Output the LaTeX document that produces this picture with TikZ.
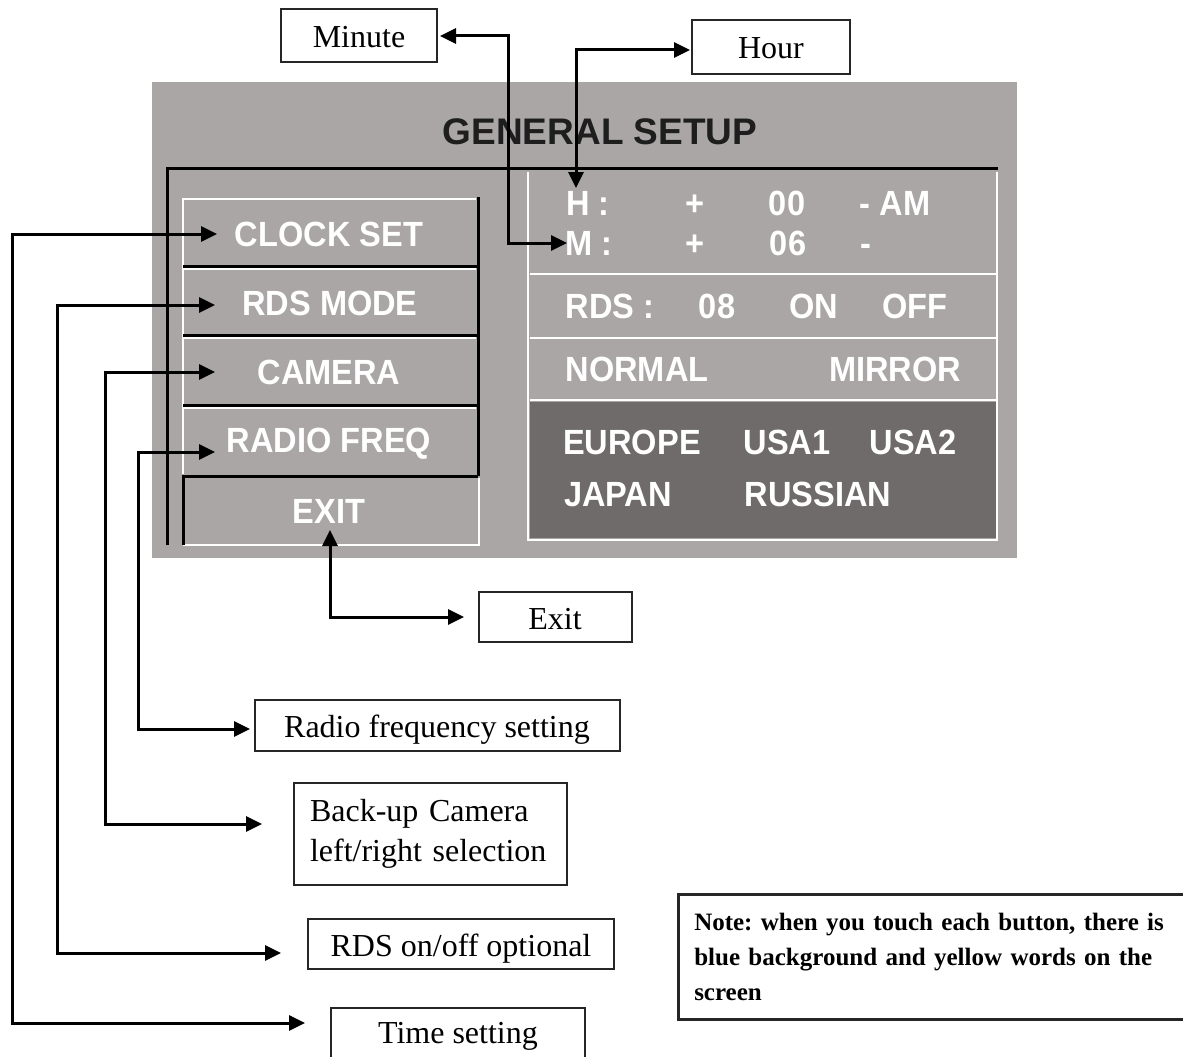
\documentclass[tikz,border=0pt]{standalone}
\usepackage{fontspec}
\setmainfont{Liberation Serif}
\newfontfamily\panelfont[FakeStretch=0.93]{Liberation Sans}
\newfontfamily\titlefont{Liberation Sans}
\usetikzlibrary{arrows.meta}
\definecolor{panelgray}{RGB}{169,166,165}
\definecolor{regiongray}{RGB}{111,107,106}
\definecolor{titleink}{RGB}{30,30,30}
\frenchspacing
\begin{document}
\begin{tikzpicture}[x=1pt,y=-1pt,
  ptext/.style={text=white,font=\panelfont\bfseries\fontsize{35}{40}\selectfont,inner sep=0pt,anchor=base},
  lblbase/.style={draw=black!85,line width=2pt,fill=white,font=\fontsize{32}{40}\selectfont,inner sep=0pt},
  lbl/.style={lblbase,text height=24pt,text depth=0pt},
  conn/.style={line width=3pt,{Triangle[length=16pt,width=15pt]}-{Triangle[length=16pt,width=15pt]}},
  blk/.style={line width=3pt,black},
  wht/.style={line width=2.5pt,white}]
\useasboundingbox (0,0) rectangle (1183,1057);
\clip (0,0) rectangle (1183,1057);
\fill[white] (0,0) rectangle (1183,1057);
% screen panel
\fill[panelgray] (152,82) rectangle (1017,558);
\fill[regiongray] (530,402) rectangle (997,538);
\draw[wht] (528,172) -- (528,540) -- (997,540) -- (997,172);
\draw[wht] (530,274) -- (997,274);
\draw[wht] (530,338) -- (997,338);
\draw[wht] (530,400) -- (997,400);
% buttons
\draw[wht] (183,474) -- (183,199) -- (476,199);
\draw[wht] (184,269) -- (476,269);
\draw[wht] (184,338) -- (476,338);
\draw[wht] (184,408) -- (476,408);
\draw[wht] (479,478) -- (479,545) -- (183,545);
\draw[blk] (478,197) -- (478,476);
\draw[blk] (183,266) -- (478,266);
\draw[blk] (183,335) -- (478,335);
\draw[blk] (183,405) -- (478,405);
\draw[blk] (478,476) -- (183,476) -- (183,545);
\draw[blk] (167,545) -- (167,168) -- (998,168);
% title
\node[text=titleink,font=\titlefont\bfseries\fontsize{37}{42}\selectfont,inner sep=0pt,anchor=base] (title) at (600,144) {GENERAL SETUP};
% button texts
\node[ptext] (bclock) at (329,246) {CLOCK SET};
\node[ptext] (brds) at (330,315) {RDS MODE};
\node[ptext] (bcam) at (329,384) {CAMERA};
\node[ptext] (bradio) at (329,452) {RADIO FREQ};
\node[ptext] (bexit) at (329,523) {EXIT};
% right panel texts
\node[ptext] (tH) at (588,215) {H :};
\node[ptext] (tHp) at (695,215) {+};
\node[ptext] (tHv) at (787,215) {00};
\node[ptext] (tHam) at (895,215) {- AM};
\node[ptext] (tM) at (589,255) {M :};
\node[ptext] (tMp) at (695,255) {+};
\node[ptext] (tMv) at (788,255) {06};
\node[ptext] (tMm) at (866,255) {-};
\node[ptext] (tR) at (610,318) {RDS :};
\node[ptext] (tRv) at (717,318) {08};
\node[ptext] (tRon) at (814,318) {ON};
\node[ptext] (tRoff) at (915,318) {OFF};
\node[ptext] (tN) at (637,381) {NORMAL};
\node[ptext] (tMi) at (895,381) {MIRROR};
\node[ptext] (tEu) at (632,454) {EUROPE};
\node[ptext] (tU1) at (787,454) {USA1};
\node[ptext] (tU2) at (913,454) {USA2};
\node[ptext] (tJp) at (618,506) {JAPAN};
\node[ptext] (tRu) at (818,506) {RUSSIAN};
% label boxes
\node[lbl,minimum width=156pt,minimum height=53pt] (minute) at (359,36) {Minute};
\node[lbl,minimum width=158pt,minimum height=54pt] (hour) at (771,47) {Hour};
\node[lbl,minimum width=153pt,minimum height=50pt] (exitlbl) at (555,617) {Exit};
\node[lbl,minimum width=365pt,minimum height=51pt] (radio) at (437,725) {Radio frequency setting};
\node[lblbase,minimum width=273pt,minimum height=102pt,text width=240pt,align=left] (camera) at (430,834) {Back-up Camera\\left/right selection};
\node[lbl,minimum width=306pt,minimum height=50pt] (rdsopt) at (461,944) {RDS on/off optional};
\node[lblbase,text height=24pt,text depth=7pt,minimum width=254pt,minimum height=54pt] (time) at (458,1035) {Time setting};
\node[draw=black!85,line width=2.5pt,anchor=north west,minimum width=540pt,minimum height=125pt,inner xsep=16pt,inner ysep=16pt,text width=508pt,align=left,font=\bfseries\fontsize{25}{35}\selectfont] (note) at (677,893) {Note: when you touch each button, there is\\blue background and yellow words on the\\screen};
% connector end points
\coordinate (tipMin) at (440,36);
\coordinate (tipM) at (567,243);
\coordinate (tipHour) at (690,50);
\coordinate (tipH) at (576,188);
\coordinate (tipClock) at (217,234);
\coordinate (tipTime) at (305,1023);
\coordinate (tipRds) at (215,305);
\coordinate (tipRdsOpt) at (281,953);
\coordinate (tipCam) at (215,372);
\coordinate (tipCamLbl) at (262,824);
\coordinate (tipRadio) at (215,452);
\coordinate (tipRadioLbl) at (250,729);
\coordinate (tipExit) at (330,530);
\coordinate (tipExitLbl) at (464,617);
% connectors
\draw[conn] (tipMin) -- (508,36) -- (508,243) -- (tipM);
\draw[conn] (tipHour) -- (576,50) -- (tipH);
\draw[conn] (tipClock) -- (12,234) -- (12,1023) -- (tipTime);
\draw[conn] (tipRds) -- (57,305) -- (57,953) -- (tipRdsOpt);
\draw[conn] (tipCam) -- (105,372) -- (105,824) -- (tipCamLbl);
\draw[conn] (tipRadio) -- (138,452) -- (138,729) -- (tipRadioLbl);
\draw[conn] (tipExit) -- (330,617) -- (tipExitLbl);
\end{tikzpicture}
\end{document}
